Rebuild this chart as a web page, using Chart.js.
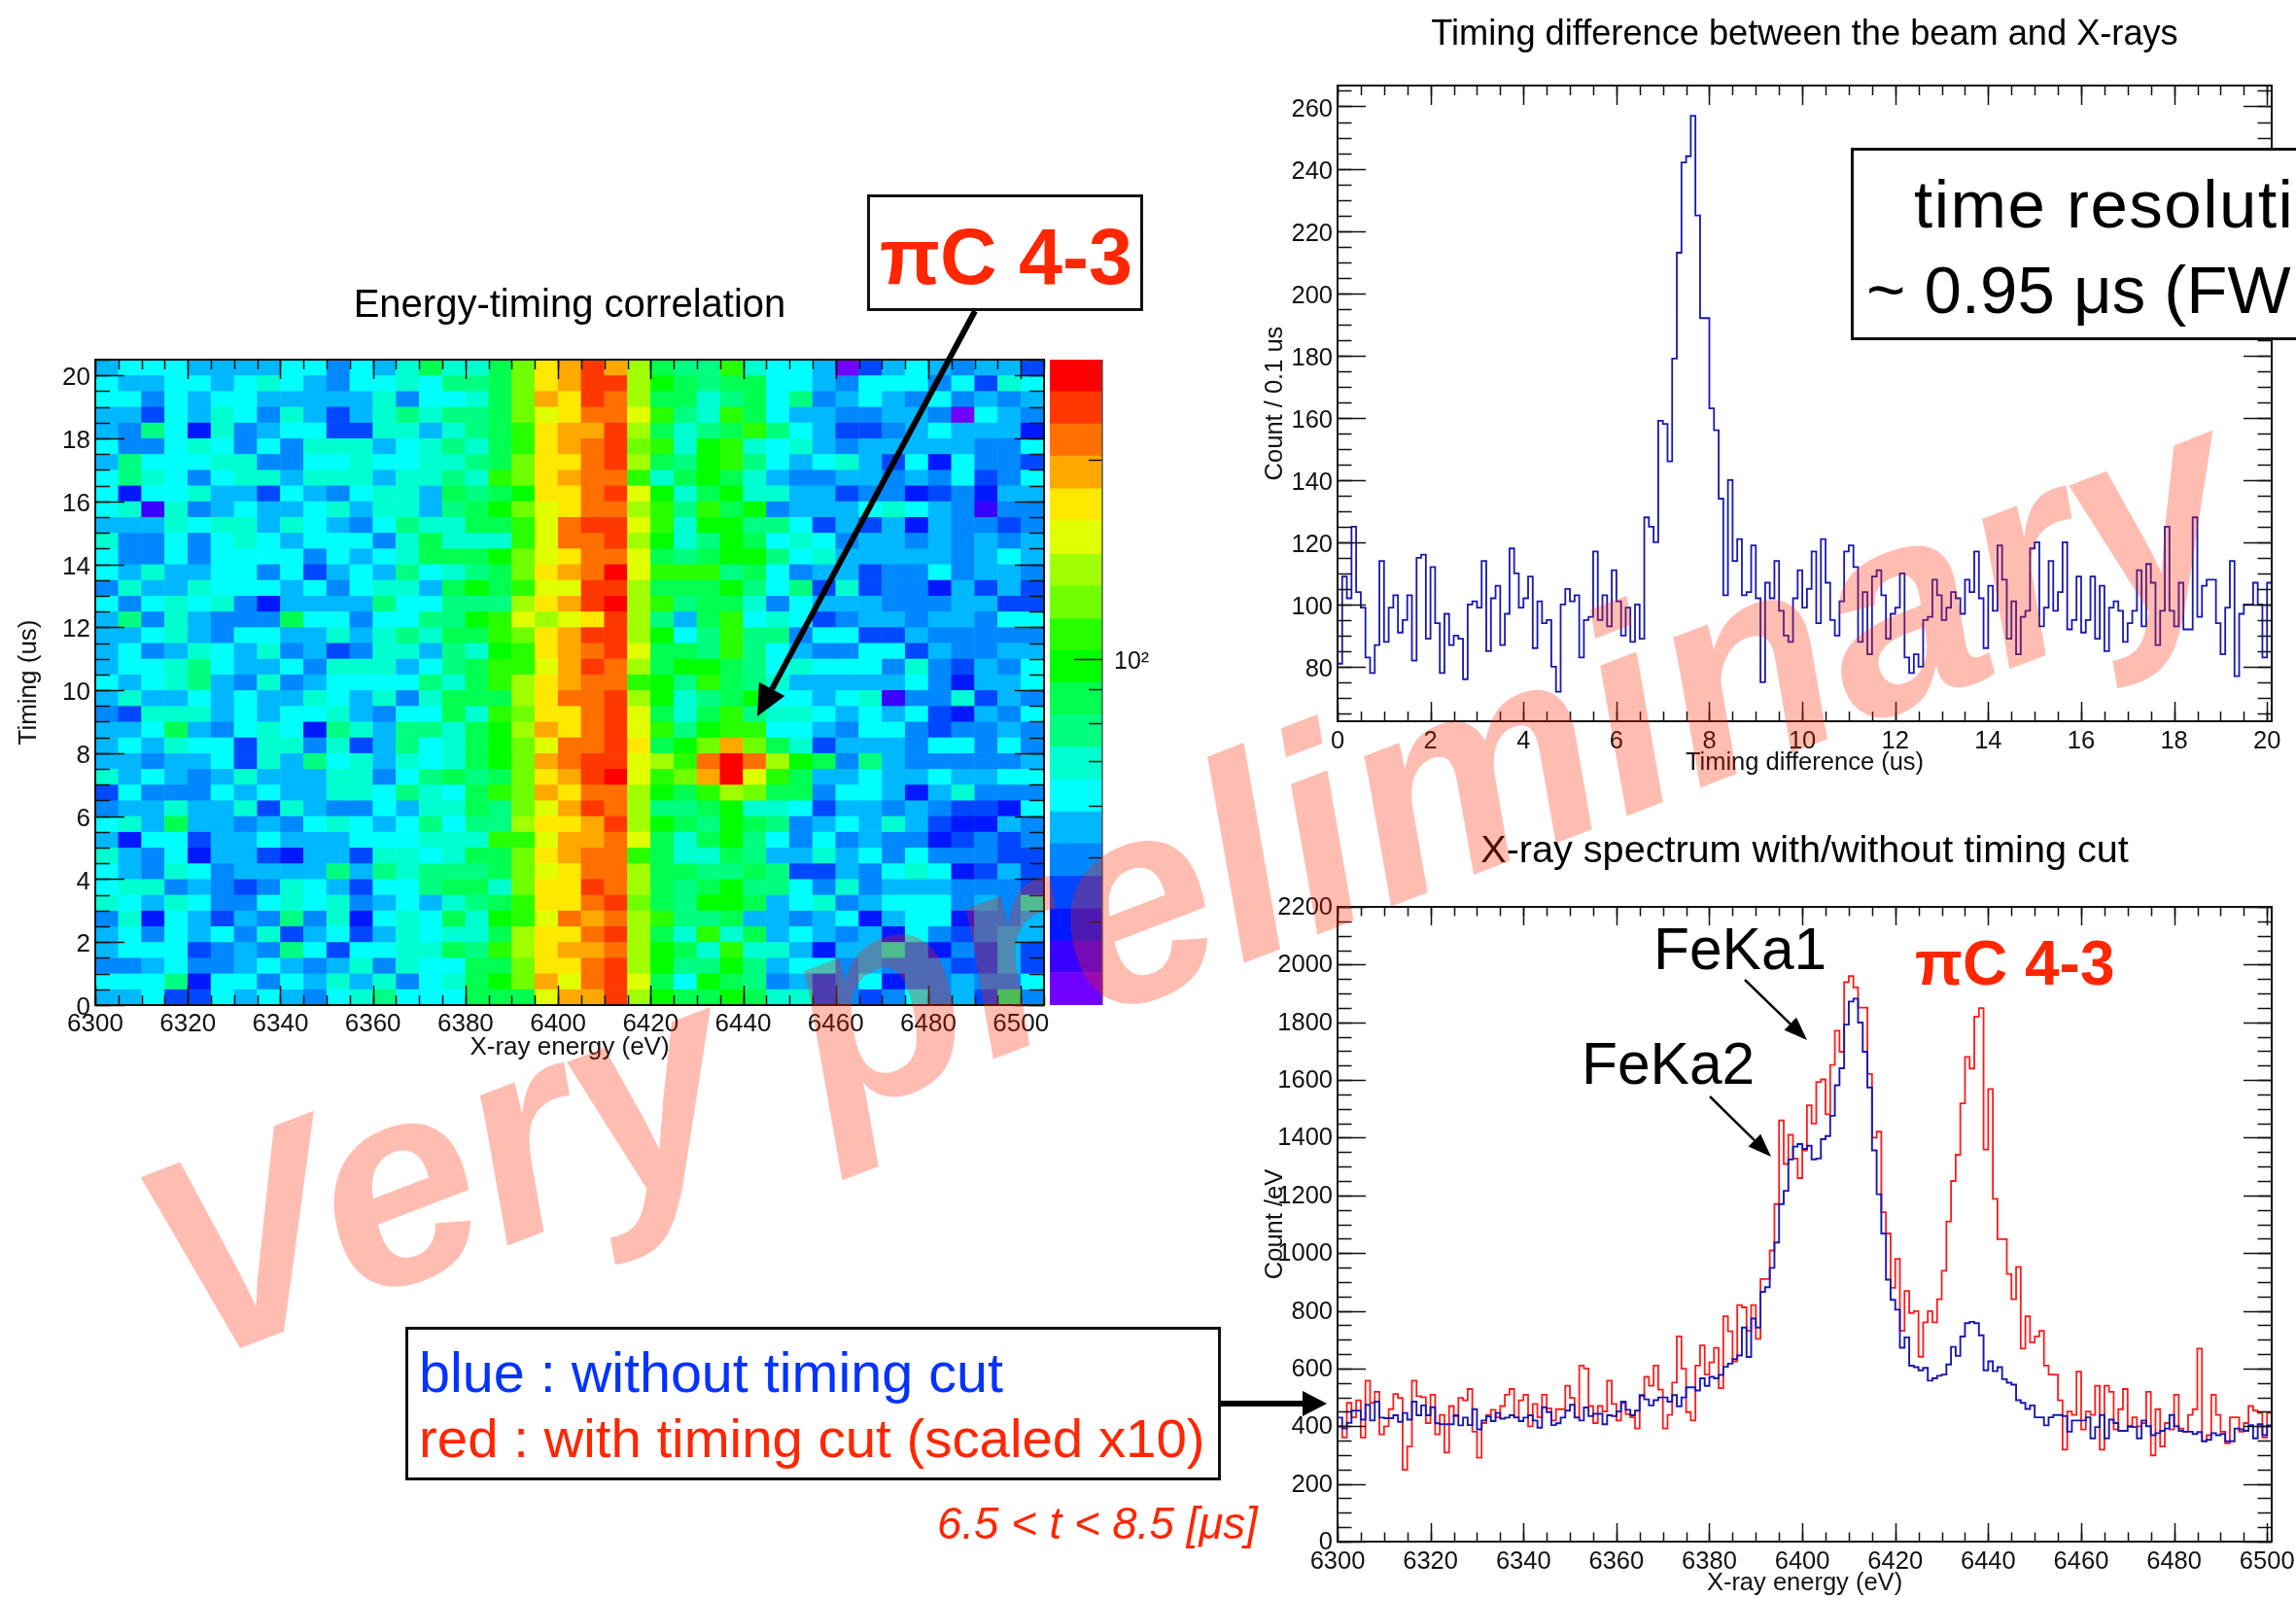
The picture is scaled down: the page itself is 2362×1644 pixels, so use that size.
<!DOCTYPE html>
<html>
<head>
<meta charset="utf-8">
<title>Timing cut X-ray spectrum</title>
<script src="https://cdn.jsdelivr.net/npm/chart.js@4"></script>
<style>
  html, body { margin: 0; padding: 0; background: #fff; }
  #page { position: relative; width: 2362px; height: 1644px; overflow: hidden; font-family: "Liberation Sans", sans-serif; }
  canvas { position: absolute; display: block; }
  .note { position: absolute; white-space: nowrap; line-height: 1; transform: translateY(-50%); }
  .box { position: absolute; box-sizing: border-box; border: 3px solid #111; background: #fff; }
  #arrows { position: absolute; left: 0; top: 0; }
  #watermark { position: absolute; white-space: nowrap; line-height: 1; font-weight: bold; font-style: italic; color: rgba(255, 38, 0, 0.3);
    left: 1221px; top: 905px; font-size: 292px; transform: translate(-50%, -50%) rotate(-21deg); }
</style>
</head>
<body>
<div id="page">
  <canvas id="heatChart" width="1080" height="803" style="left:0;top:291px"></canvas>
  <canvas id="colorChart" width="124" height="684" style="left:1080px;top:360px"></canvas>
  <canvas id="timingChart" width="1076" height="786" style="left:1286px;top:14px"></canvas>
  <canvas id="spectrumChart" width="1076" height="792" style="left:1286px;top:852px"></canvas>

  <div class="box" style="left:892px;top:200px;width:284px;height:120px"></div>
  <div class="note" style="left:905px;top:264px;font-size:81px;font-weight:bold;color:#ff2600">πC 4-3</div>

  <div class="box" style="left:1904px;top:152px;width:520px;height:198px"></div>
  <div class="note" style="left:1969px;top:210px;font-size:69px;letter-spacing:1.5px;color:#000">time resolution</div>
  <div class="note" style="left:1920px;top:298px;font-size:69px;color:#000">~ 0.95 μs (FWHM)</div>

  <div class="note" style="left:1701px;top:976px;font-size:60.5px;color:#000">FeKa1</div>
  <div class="note" style="left:1627px;top:1094px;font-size:60.5px;color:#000">FeKa2</div>
  <div class="note" style="left:1970px;top:991px;font-size:64px;font-weight:bold;color:#ff2600">πC 4-3</div>

  <div class="box" style="left:417px;top:1365px;width:839px;height:158px"></div>
  <div class="note" style="left:431px;top:1413px;font-size:57.5px;color:#0433ff">blue : without timing cut</div>
  <div class="note" style="left:431px;top:1480px;font-size:56.4px;color:#ff2600">red : with timing cut (scaled x10)</div>
  <div class="note" style="left:964px;top:1568px;font-size:45.7px;font-style:italic;color:#ff2600">6.5 &lt; t &lt; 8.5 [μs]</div>

  <svg id="arrows" width="2362" height="1644"></svg>
  <div id="watermark">Very preliminary</div>
</div>

<script>
  // ------------------- Data --------------------
  // colour level of every heat map cell, top row (20.0-20.5 us) first, 6300 eV on the left
  const heatLevels = [
    [5,6,6,6,5,5,5,5,6,6,4,6,5,7,9,7,7,9,12,15,16,18,16,13,9,8,8,11,7,6,6,5,0,3,5,6,5,4,5,5,3],
    [6,5,5,6,6,5,6,7,6,5,4,6,6,7,6,8,8,9,12,15,16,18,18,13,10,9,8,9,9,6,6,5,4,6,6,6,4,6,3,7,6],
    [6,6,4,6,5,6,6,5,5,5,5,5,7,4,6,6,7,9,12,16,15,18,17,13,9,9,7,8,9,6,8,4,5,6,5,4,6,4,5,4,5],
    [5,5,3,6,5,7,6,4,7,5,3,5,7,8,7,8,8,9,12,14,15,17,17,14,11,8,7,11,9,6,5,5,4,4,5,5,4,0,6,5,4],
    [5,4,8,6,2,7,4,5,6,6,3,3,7,7,5,7,8,9,11,15,16,16,18,13,9,7,8,9,11,8,6,5,3,3,4,5,6,5,5,5,2],
    [6,4,4,6,7,6,4,6,4,7,7,7,5,6,7,8,7,9,11,15,16,17,18,12,11,7,10,11,7,6,7,5,4,5,5,5,5,5,4,4,6],
    [5,8,6,6,6,7,7,4,4,6,6,7,6,6,7,7,8,9,12,15,15,17,18,13,9,8,10,11,8,6,5,6,7,5,3,6,2,6,4,4,3],
    [6,8,7,6,4,6,7,7,5,7,7,7,5,7,7,8,7,11,12,15,16,17,17,11,7,9,10,9,7,5,4,4,5,5,4,5,4,6,3,4,6],
    [6,2,6,6,7,5,5,3,6,5,4,6,7,7,5,9,8,9,10,15,15,17,18,14,10,7,9,10,7,7,5,5,3,4,4,2,3,4,2,5,5],
    [6,7,1,7,4,5,6,5,5,6,7,5,7,7,5,8,9,10,12,14,15,17,17,13,11,8,11,9,10,4,5,5,5,6,7,6,5,4,1,4,4],
    [5,5,5,7,6,7,7,5,7,6,5,4,6,8,7,7,9,9,11,14,17,18,18,14,11,7,10,10,8,8,6,3,5,3,5,2,5,4,4,3,4],
    [7,4,4,6,4,6,7,6,5,6,6,6,4,7,9,7,7,7,11,14,17,17,18,13,10,7,8,10,9,6,7,6,4,5,5,4,5,4,5,4,5],
    [6,4,4,6,4,6,6,6,6,4,6,5,6,7,9,9,9,10,12,14,15,17,17,14,9,8,9,10,10,8,6,7,5,5,5,5,5,4,5,6,5],
    [6,5,7,5,5,6,6,4,6,3,5,6,5,8,6,7,8,9,12,15,16,17,19,14,11,11,11,8,9,6,4,5,5,3,4,4,6,4,5,5,4],
    [4,7,5,5,7,6,6,6,5,6,4,6,7,7,5,9,10,9,11,14,14,18,18,13,9,9,9,10,8,6,8,3,7,3,4,4,2,5,3,5,3],
    [6,4,6,7,6,7,4,2,5,5,5,5,8,6,6,8,8,8,13,15,16,18,19,13,11,8,9,9,7,4,6,5,5,5,4,4,4,5,5,3,3],
    [5,8,4,7,5,4,4,4,9,6,6,4,6,6,8,8,10,11,14,13,14,15,18,13,8,5,9,11,6,7,6,3,4,5,5,4,5,5,4,6,6],
    [5,5,6,7,5,4,6,6,5,5,7,5,7,8,7,9,9,11,12,15,16,18,18,13,10,6,8,11,8,8,4,6,6,3,3,5,4,4,4,4,4],
    [5,6,4,5,7,6,5,7,4,5,3,4,7,7,5,8,7,10,11,15,16,17,18,14,9,9,8,11,8,6,5,4,4,6,6,3,5,4,4,5,5],
    [5,6,6,7,8,6,5,5,6,4,7,7,7,5,6,8,9,11,11,14,16,18,17,13,9,10,10,9,8,6,7,6,6,6,4,7,4,3,5,4,6],
    [6,5,6,7,8,5,4,7,4,5,6,6,6,6,8,7,9,11,13,15,16,17,17,11,10,8,11,9,8,7,5,5,5,5,5,6,4,2,5,5,6],
    [5,7,5,5,6,5,6,5,5,7,6,5,7,4,7,9,9,9,13,15,17,17,18,13,10,7,8,9,10,6,6,5,6,7,1,4,4,7,3,5,4],
    [4,3,7,7,7,5,6,5,6,6,7,5,4,6,6,9,7,11,12,15,15,17,18,14,9,7,9,11,8,7,7,6,5,6,5,6,3,2,5,4,6],
    [5,5,6,9,5,4,6,7,6,2,8,7,5,8,8,7,9,10,13,16,15,17,18,14,11,8,10,11,11,6,6,5,4,6,6,4,3,4,4,5,4],
    [5,6,5,7,6,6,3,7,7,4,7,3,5,8,6,7,9,10,12,14,17,17,18,15,9,10,12,16,12,9,7,3,5,5,5,4,6,6,4,6,4],
    [5,5,4,5,5,6,3,7,5,8,6,7,5,7,6,7,9,10,12,16,17,18,18,14,13,11,17,19,17,13,10,9,4,8,5,4,4,4,4,4,5],
    [7,5,6,5,4,5,7,5,5,5,7,7,4,6,8,9,8,9,12,15,16,18,19,14,11,12,16,19,14,11,9,5,5,6,5,5,6,5,5,6,6],
    [3,6,4,4,4,6,5,6,5,5,7,7,6,8,7,6,9,11,12,16,15,17,17,13,10,9,11,13,12,9,9,4,6,6,5,2,5,7,4,4,4],
    [4,5,5,7,5,5,7,3,7,5,4,4,6,5,7,7,9,8,12,14,16,18,17,13,8,8,9,10,7,7,6,3,5,5,4,5,4,3,3,2,6],
    [6,7,5,9,5,5,4,5,4,6,7,6,5,6,8,6,8,8,13,15,15,16,18,13,10,9,8,10,9,8,4,5,6,5,7,5,3,2,2,5,4],
    [5,2,6,6,3,5,5,6,5,5,5,6,6,6,7,7,7,11,11,14,16,16,17,14,9,7,9,10,8,6,4,6,4,5,4,4,2,3,4,3,4],
    [7,5,4,6,2,5,5,3,2,5,5,3,7,7,6,7,9,9,12,15,16,17,17,11,9,7,7,9,8,5,5,7,5,6,4,6,4,4,4,3,3],
    [6,5,4,7,6,4,5,5,5,5,8,5,8,7,8,8,8,9,12,14,15,17,17,13,9,9,8,8,9,8,3,3,5,4,6,7,6,2,3,5,3],
    [6,7,7,4,5,4,3,4,7,6,5,3,6,6,8,9,9,7,12,15,15,18,17,13,9,8,9,10,8,8,6,4,7,4,5,5,5,4,4,4,3],
    [7,6,5,7,6,4,4,6,7,6,7,4,5,6,5,7,8,9,11,15,15,17,18,12,9,8,10,10,9,5,6,7,4,5,6,6,6,4,5,4,7],
    [4,7,2,6,5,3,5,4,8,4,7,2,6,7,6,9,7,10,11,14,17,16,17,13,11,8,8,9,5,5,4,5,6,2,5,6,6,2,4,4,5],
    [5,6,4,6,5,6,4,7,3,5,6,3,5,7,6,7,7,9,13,15,15,17,18,13,9,7,11,7,9,5,6,5,4,5,2,6,4,3,4,5,5],
    [5,6,6,6,3,4,5,4,8,6,3,6,6,7,7,9,8,11,13,15,16,16,17,13,10,9,7,11,7,7,5,2,5,5,7,4,2,4,3,5,3],
    [4,4,5,6,4,4,5,6,5,4,5,7,4,7,6,6,9,9,12,15,15,17,18,13,10,8,8,10,8,5,6,6,4,5,4,4,4,3,3,5,3],
    [6,6,6,8,2,6,6,4,6,5,7,5,7,4,6,7,9,10,12,16,14,17,18,14,9,6,10,9,8,4,5,3,4,6,2,4,4,5,4,4,6],
    [5,5,6,3,3,6,5,6,5,4,6,7,8,6,6,6,9,9,9,14,16,16,18,13,10,9,9,10,9,7,7,3,4,3,4,6,4,5,3,8,4]
  ];

  // palette of the colour bar, lowest level first
  const colorLevels = ["#7000ff", "#3a00ff", "#0018ff", "#0048ff", "#0088ff", "#00b8ff", "#00ffff", "#00ffd0", "#00ff80", "#00ff50",
    "#00ff00", "#28ff00", "#70ff00", "#a0ff00", "#e0ff00", "#ffe800", "#ffa800", "#ff7000", "#ff3800", "#ff0000"];
  const colorEdges = [29.9, 33.5, 37.4, 41.9, 46.9, 52.5, 58.7, 65.7, 73.5, 82.3, 92.1, 103, 115, 129, 144, 162, 181, 203, 227, 254, 284];
  const colorTicks = [40, 50, 60, 70, 80, 90, 100, 200];

  // counts per 0.1 us
  const timingCounts = [
    81,109,102,125,104,99,83,78,87,114, 88,99,103,91,95,103,82,115,116,89,
    112,94,78,97,87,90,89,76,100,101, 99,114,85,102,106,87,97,118,110,99,
    102,109,86,101,94,95,80,72,100,105, 101,103,83,95,96,117,95,103,93,111,
    101,90,99,88,100,89,128,125,120,159, 158,146,179,213,242,244,257,225,192,192,
    163,156,134,103,140,114,121,103,104,119, 102,75,107,102,114,98,90,88,102,111,
    99,105,117,94,121,107,95,90,101,117, 119,112,88,104,84,109,111,103,89,97,
    99,110,83,78,84,80,95,96,108,103, 95,99,104,102,97,108,104,117,102,86,
    106,98,119,108,89,101,84,96,98,118, 120,93,99,114,98,104,120,92,95,109,
    91,95,109,89,106,85,99,101,98,88, 94,98,111,93,113,107,87,98,125,98,
    93,107,92,92,128,96,106,108,108,94, 84,99,114,77,97,100,100,107,100,83,
    107
  ];

  // counts per eV, without timing cut
  const spectrumBlue = [
    430,392,412,454,454,423,474,420,485,430, 428,428,438,415,446,423,485,438,472,438,
    466,410,407,407,407,438,403,430,404,459, 389,420,434,418,446,426,430,438,430,418,
    430,438,420,395,466,449,404,410,430,454, 474,430,420,465,435,443,443,407,438,435,
    451,485,457,438,454,508,493,472,490,500, 500,485,508,469,500,535,535,524,566,540,
    571,566,578,606,617,633,645,742,640,773, 742,866,882,949,1037,1170,1216,1325,1369,1378,
    1361,1372,1325,1328,1395,1406,1476,1582,1641,1792, 1872,1882,1799,1698,1574,1356,1204,1068,908,838,
    804,672,708,610,605,594,602,558,566,575, 579,614,675,644,711,757,762,757,715,594,
    625,591,605,563,551,544,490,481,460,472, 431,431,403,431,439,439,435,381,420,420,
    420,431,358,397,439,358,423,411,384,384, 400,397,358,420,400,369,376,384,392,439,
    400,384,381,381,373,380,348,353,376,369, 373,348,348,392,389,384,404,358,407,369,
    403
  ];

  // counts per eV, with timing cut, scaled x10
  const spectrumRed = [
    400,361,481,431,490,361,558,481,519,372, 400,459,512,498,249,330,558,504,501,411,
    509,372,439,309,470,435,498,490,529,381, 291,411,439,457,431,470,509,529,431,490,
    509,400,477,431,509,462,420,459,459,540, 498,431,610,600,470,411,470,451,558,477,
    420,481,442,431,392,504,571,540,610,527, 392,439,551,711,599,449,420,610,680,579,
    621,672,532,781,729,625,820,812,731,820, 703,910,910,1009,1170,1460,1309,1410,1328,1260,
    1356,1512,1449,1593,1602,1481,1652,1771,1698,1939, 1960,1921,1851,1851,1621,1400,1421,1142,1068,880,
    980,731,869,792,799,641,760,799,760,840, 939,1110,1250,1341,1519,1680,1640,1820,1849,1359,
    1569,1188,1048,1048,928,840,952,669,781,690, 711,731,610,579,579,490,319,451,439,589,
    389,451,439,540,319,540,519,389,459,529, 397,431,400,411,519,299,459,330,411,389,
    509,392,380,439,459,669,348,369,509,439, 381,341,431,431,381,411,470,454,446,361,
    446
  ];

  const heatXTicks = [6300, 6320, 6340, 6360, 6380, 6400, 6420, 6440, 6460, 6480, 6500];
  const heatYTicks = [0, 2, 4, 6, 8, 10, 12, 14, 16, 18, 20];
  const timingXTicks = [0, 2, 4, 6, 8, 10, 12, 14, 16, 18, 20];
  const timingYTicks = [80, 100, 120, 140, 160, 180, 200, 220, 240, 260];
  const spectrumYTicks = [0, 200, 400, 600, 800, 1000, 1200, 1400, 1600, 1800, 2000, 2200];

  // ------------------- Helpers --------------------
  const FONT = "'Liberation Sans', sans-serif";
  const INK = "#111";

  function steps(from, to, step) {
    const out = [];
    for (let v = from; v <= to + 1e-6; v += step) out.push(v);
    return out;
  }

  // ROOT style frame: inward ticks on all four sides
  const rootFrame = {
    id: "rootFrame",
    afterDraw(chart, args, opts) {
      const { ctx, chartArea: a, scales } = chart;
      const mark = (axis, values, len) => values.forEach((v) => {
        const p = Math.round(scales[axis].getPixelForValue(v)) + 0.5;
        ctx.beginPath();
        if (axis === "x") {
          ctx.moveTo(p, a.bottom); ctx.lineTo(p, a.bottom - len);
          ctx.moveTo(p, a.top); ctx.lineTo(p, a.top + len);
        } else {
          ctx.moveTo(a.left, p); ctx.lineTo(a.left + len, p);
          ctx.moveTo(a.right, p); ctx.lineTo(a.right - len, p);
        }
        ctx.stroke();
      });
      ctx.save();
      ctx.strokeStyle = INK;
      ctx.lineWidth = 1.5;
      mark("x", opts.xMinor, opts.xLen / 2);
      mark("x", opts.xMajor, opts.xLen);
      mark("y", opts.yMinor, opts.yLen / 2);
      mark("y", opts.yMajor, opts.yLen);
      ctx.lineWidth = 2;
      ctx.strokeRect(a.left, a.top, a.right - a.left, a.bottom - a.top);
      ctx.restore();
    },
  };

  function axisOptions(axis, range, ticks, title, margin, titlePad, fontSize, labelPad, labelOffset = 0) {
    const isX = axis === "x";
    return {
      type: "linear",
      min: range[0],
      max: range[1],
      offset: false,
      position: isX ? "bottom" : "left",
      grid: { display: false, drawTicks: false },
      border: { display: false },
      title: {
        display: true,
        text: title,
        color: INK,
        font: { family: FONT, size: fontSize },
        padding: isX ? { top: 0, bottom: titlePad } : { top: titlePad, bottom: 0 },
      },
      ticks: {
        autoSkip: false,
        maxRotation: 0,
        color: INK,
        padding: labelPad,
        labelOffset,
        font: { family: FONT, size: fontSize },
        callback: (v) => String(v),
      },
      afterBuildTicks(scale) { scale.ticks = ticks.map((value) => ({ value })); },
      afterFit(scale) {
        if (isX) scale.height = margin; else scale.width = margin;
        scale.paddingLeft = scale.paddingRight = scale.paddingTop = scale.paddingBottom = 0;
      },
    };
  }

  function titleOptions(text, size, gap) {
    return {
      display: true,
      fullSize: false,
      text,
      color: "#000",
      font: { family: FONT, size, weight: "normal" },
      padding: { top: 0, bottom: gap },
    };
  }

  // ------------------- Heat map --------------------
  function renderHeat() {
    const datasets = heatLevels.map((row, r) => {
      const low = 20 - r * 0.5;
      return {
        data: row.map((_, i) => ({ x: 6300 + i * 5 + 2.5, y: [low, low + 0.52] })),
        backgroundColor: row.map((level) => colorLevels[level]),
        borderWidth: 0,
        barPercentage: 1.02,
        categoryPercentage: 1,
      };
    });
    const x = axisOptions("x", [6300, 6505], heatXTicks, "X-ray energy (eV)", 60, 1, 26, 4);
    x.stacked = true;
    const y = axisOptions("y", [0, 20.5], heatYTicks, "Timing (us)", 98, 14, 26, 5, 3);
    new Chart(document.getElementById("heatChart"), {
      type: "bar",
      data: { datasets },
      plugins: [rootFrame],
      options: {
        responsive: false,
        animation: false,
        layout: { padding: { right: 6 } },
        scales: { x, y },
        plugins: {
          legend: { display: false },
          tooltip: { enabled: false },
          title: titleOptions("Energy-timing correlation", 40, 31),
          rootFrame: { xMajor: heatXTicks, xMinor: steps(6300, 6505, 5), yMajor: heatYTicks, yMinor: steps(0, 20.5, 0.5), xLen: 20, yLen: 30 },
        },
      },
    });
  }

  // ------------------- Colour bar --------------------
  function renderColorBar() {
    const datasets = colorLevels.map((color, i) => ({
      data: [[colorEdges[i], colorEdges[i + 1]]],
      backgroundColor: color,
      borderWidth: 0,
      barPercentage: 1,
      categoryPercentage: 1,
    }));
    new Chart(document.getElementById("colorChart"), {
      type: "bar",
      data: { labels: ["z"], datasets },
      plugins: [{
        id: "barTicks",
        afterDraw(chart) {
          const { ctx, chartArea: a, scales } = chart;
          ctx.save();
          ctx.strokeStyle = INK;
          ctx.lineWidth = 1.5;
          colorTicks.forEach((v) => {
            const p = Math.round(scales.y.getPixelForValue(v)) + 0.5;
            ctx.beginPath();
            ctx.moveTo(a.right, p);
            ctx.lineTo(a.right - (v === 100 ? 29 : 14), p);
            ctx.stroke();
          });
          ctx.strokeStyle = "#555";
          ctx.beginPath();
          ctx.moveTo(a.right, a.top);
          ctx.lineTo(a.right, a.bottom);
          ctx.stroke();
          ctx.restore();
        },
      }],
      options: {
        responsive: false,
        animation: false,
        layout: { padding: { top: 10, bottom: 10 } },
        scales: {
          x: { display: false, stacked: true },
          y: {
            type: "logarithmic",
            position: "right",
            min: 29.9,
            max: 284,
            grid: { display: false, drawTicks: false },
            border: { display: false },
            ticks: {
              autoSkip: false,
              color: INK,
              padding: 12,
              labelOffset: 3,
              font: { family: FONT, size: 25 },
              callback: (v) => (v === 100 ? "10²" : ""),
            },
            afterBuildTicks(scale) { scale.ticks = colorTicks.map((value) => ({ value })); },
            afterFit(scale) {
              scale.width = 70;
              scale.paddingTop = scale.paddingBottom = 0;
            },
          },
        },
        plugins: { legend: { display: false }, tooltip: { enabled: false } },
      },
    });
  }

  // ------------------- Histograms --------------------
  function histogram(values, start, width) {
    const points = values.map((y, i) => ({ x: start + i * width, y }));
    points.push({ x: start + values.length * width, y: values[values.length - 1] });
    return points;
  }

  function stepLine(points, color, lineWidth) {
    return { data: points, borderColor: color, borderWidth: lineWidth, stepped: "before", pointRadius: 0, fill: false };
  }

  function renderTiming() {
    new Chart(document.getElementById("timingChart"), {
      type: "line",
      data: { datasets: [stepLine(histogram(timingCounts, 0, 0.1), "#1818b0", 1.8)] },
      plugins: [rootFrame],
      options: {
        responsive: false,
        animation: false,
        layout: { padding: { right: 25 } },
        scales: {
          x: axisOptions("x", [0, 20.1], timingXTicks, "Timing difference (us)", 58, 0, 25.5, 6),
          y: axisOptions("y", [62.5, 266.7], timingYTicks, "Count / 0.1 us", 90, 11, 25.5, 5, 3),
        },
        plugins: {
          legend: { display: false },
          tooltip: { enabled: false },
          title: titleOptions("Timing difference between the beam and X-rays", 36.2, 30.6),
          rootFrame: { xMajor: timingXTicks, xMinor: steps(0, 20, 0.5), yMajor: timingYTicks, yMinor: steps(65, 265, 5), xLen: 20, yLen: 29 },
        },
      },
    });
  }

  function renderSpectrum() {
    new Chart(document.getElementById("spectrumChart"), {
      type: "line",
      data: {
        datasets: [
          stepLine(histogram(spectrumBlue, 6300, 1), "#1818b0", 1.9),
          stepLine(histogram(spectrumRed, 6300, 1), "#ff1a1a", 1.8),
        ],
      },
      plugins: [rootFrame],
      options: {
        responsive: false,
        animation: false,
        layout: { padding: { right: 25 } },
        scales: {
          x: axisOptions("x", [6300, 6501], heatXTicks, "X-ray energy (eV)", 58, 0, 25.5, 6),
          y: axisOptions("y", [0, 2200], spectrumYTicks, "Count /eV", 90, 11, 25.5, 5, 1),
        },
        plugins: {
          legend: { display: false },
          tooltip: { enabled: false },
          title: titleOptions("X-ray spectrum with/without timing cut", 39.6, 33.5),
          rootFrame: { xMajor: heatXTicks, xMinor: steps(6300, 6500, 5), yMajor: spectrumYTicks, yMinor: steps(0, 2200, 50), xLen: 19, yLen: 29 },
        },
      },
    });
  }

  // ------------------- Annotation arrows --------------------
  function drawArrow(svg, x1, y1, x2, y2, width, headLen, headHalf) {
    const len = Math.hypot(x2 - x1, y2 - y1);
    const ux = (x2 - x1) / len, uy = (y2 - y1) / len;
    const bx = x2 - ux * headLen, by = y2 - uy * headLen;
    const ns = "http://www.w3.org/2000/svg";
    const line = document.createElementNS(ns, "line");
    line.setAttribute("x1", x1); line.setAttribute("y1", y1);
    line.setAttribute("x2", bx); line.setAttribute("y2", by);
    line.setAttribute("stroke", "#000"); line.setAttribute("stroke-width", width);
    svg.appendChild(line);
    const head = document.createElementNS(ns, "polygon");
    head.setAttribute("points", `${x2},${y2} ${bx - uy * headHalf},${by + ux * headHalf} ${bx + uy * headHalf},${by - ux * headHalf}`);
    svg.appendChild(head);
  }

  const svg = document.getElementById("arrows");
  drawArrow(svg, 1003, 320, 779, 737, 6, 32, 15);
  drawArrow(svg, 1256, 1444, 1365, 1444, 6, 25, 13);
  drawArrow(svg, 1795, 1008, 1859, 1070, 2.5, 24, 9);
  drawArrow(svg, 1759, 1128, 1822, 1190, 2.5, 24, 9);

  renderHeat();
  renderColorBar();
  renderTiming();
  renderSpectrum();
</script>
</body>
</html>
